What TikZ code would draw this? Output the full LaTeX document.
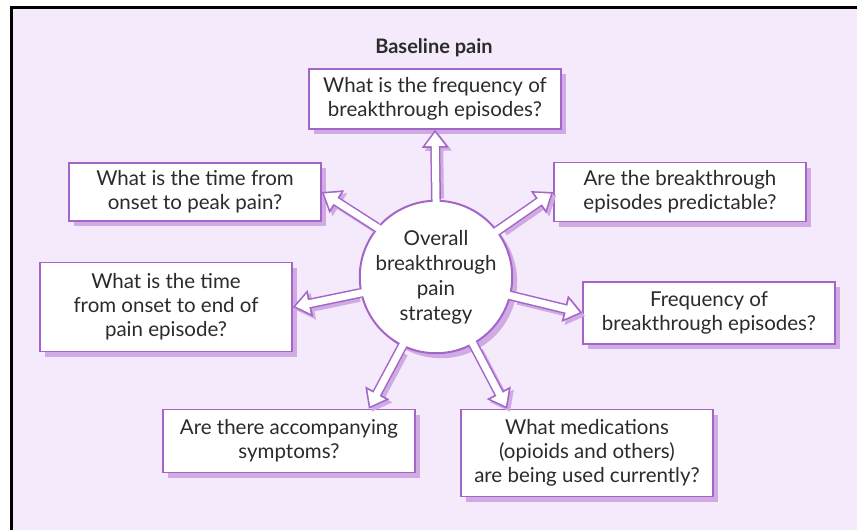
\documentclass[tikz,border=0pt]{standalone}
\usepackage{fontspec}
\setmainfont{Lato}
\usetikzlibrary{arrows.meta,shadows}
\definecolor{bgpurple}{HTML}{F4EAFB}
\definecolor{boxline}{HTML}{A366C8}
\definecolor{shade}{HTML}{CFAAE3}
\definecolor{ink}{HTML}{2B2B2B}
\begin{document}
\begin{tikzpicture}[x=1pt,y=-1pt] % pixel coordinates, y downwards
\tikzstyle{question} = [draw=boxline, line width=1.5pt, fill=white, text=ink, align=center,
  minimum width=252pt, font=\fontsize{20.5}{24}\selectfont,
  drop shadow={shadow xshift=5pt, shadow yshift=-5pt, fill=shade, opacity=1}] % box style
\tikzstyle{hub} = [circle, draw=boxline, line width=2pt, fill=white, text=ink, align=center,
  minimum size=146pt, inner sep=0pt, font=\fontsize{20.5}{25}\selectfont,
  drop shadow={shadow xshift=5pt, shadow yshift=-5pt, fill=shade, opacity=1}] % centre circle
\tikzstyle{fatarrow} = [draw=boxline, line width=10pt, -{Triangle[length=18pt,width=26pt]},
  preaction={draw=shade, line width=10pt, -{Triangle[length=18pt,width=26pt]}, shorten <=4pt,
    transform canvas={shift={(3pt,-3pt)}}},
  postaction={draw=white, line width=7pt, -{Triangle[length=13.5pt,width=19.5pt]},
    shorten >=2.7pt, shorten <=-5pt}] % hollow arrow
\useasboundingbox (0,0) rectangle (857,530);
\fill[bgpurple] (11,7) rectangle (857,530);
\draw[line width=3pt] (11,530) -- (11,7) -- (857,7);
% questions
\node[font=\fontsize{20}{24}\selectfont\bfseries, text=ink] (base) at (434,48) {Baseline pain};
\node[question, minimum height=60pt] (freq) at (435,99) {What is the frequency of\\breakthrough episodes?};
\node[question, minimum height=58pt] (peak) at (195,192) {What is the time from\\onset to peak pain?};
\node[question, minimum height=59pt] (predict) at (680,192) {Are the breakthrough\\episodes predictable?};
\node[question, minimum height=89pt] (endep) at (166,307) {What is the time\\from onset to end of\\pain episode?};
\node[question, minimum height=62pt] (freqb) at (709,313) {Frequency of\\breakthrough episodes?};
\node[question, minimum height=63pt] (sympt) at (289,441) {Are there accompanying\\symptoms?};
\node[question, minimum height=87pt] (meds) at (587,453) {What medications\\(opioids and others)\\are being used currently?};
% centre
\node[hub] (strat) at (436,277) {Overall\\breakthrough\\pain\\strategy};
% arrows
\draw[fatarrow] (strat.90) -- (freq.south);
\draw[fatarrow] (strat.140) -- (peak.east);
\draw[fatarrow] (strat.37) -- (predict.west);
\draw[fatarrow] (strat.192) -- (endep.east);
\draw[fatarrow] (strat.-14) -- (freqb.west);
\draw[fatarrow] (strat.244) -- (sympt.22);
\draw[fatarrow] (strat.-61) -- (meds.151);
\end{tikzpicture}
\end{document}
